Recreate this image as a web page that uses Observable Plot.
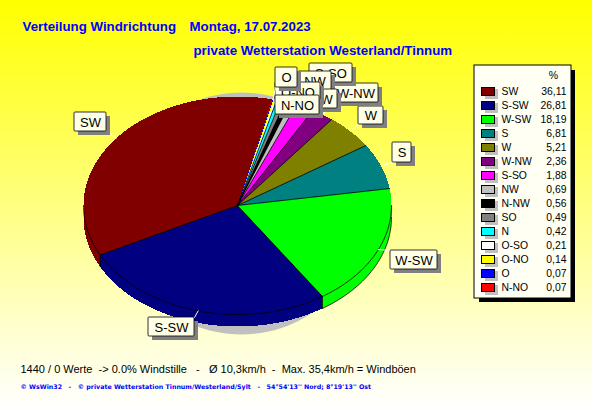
<!DOCTYPE html>
<html><head><meta charset="utf-8">
<script src="https://cdn.jsdelivr.net/npm/d3@7"></script>
<script src="https://cdn.jsdelivr.net/npm/@observablehq/plot@0.6"></script>
<style>
html,body{margin:0;padding:0;width:592px;height:407px;overflow:hidden;background:linear-gradient(#ffff00 0%,#ffff80 50%,#ffffff 100%)}
svg{display:block;background:transparent!important}
</style></head><body><div id="c"></div>
<script>
const directions=["SW","S-SW","W-SW","S","W","W-NW","S-SO","NW","N-NW","SO","N","O-SO","O-NO","O","N-NO"];
const percents=[36.11,26.81,18.19,6.81,5.21,2.36,1.88,0.69,0.56,0.49,0.42,0.21,0.14,0.07,0.07];
const percentLabels=["36,11","26,81","18,19","6,81","5,21","2,36","1,88","0,69","0,56","0,49","0,42","0,21","0,14","0,07","0,07"];
const sliceColors=["#800000","#000080","#00ff00","#008080","#808000","#800080","#ff00ff","#c0c0c0","#000000","#808080","#00ffff","#ffffff","#ffff00","#0000ff","#ff0000"];

// Layout
const pie={cx:237,cy:205,rx:154,ry:109,depth:12,start:13};
const labelBoxes=[["SW",74,112,106,131],["S-SW",148,317,194,336],["W-SW",390,250,437,269],["S",392,142,411,162],["W",358,106,383,124],["W-NW",333,83,378,102],["S-SO",309,63,352,82],["NW",298,71,331,90],["N-NW",292,89,337,108],["O-NO",275,82,320,101],["O",275,67,297,87],["N-NO",275,95,319,114]];

const total=d3.sum(percents), rad=Math.PI/180;
const rim=(a,dy=0)=>({x:pie.cx+pie.rx*Math.sin(a*rad),y:pie.cy-pie.ry*Math.cos(a*rad)+dy});
let acc=pie.start;
const slices=directions.map((name,i)=>{const a0=acc,a1=acc-percents[i]/total*360;acc=a1;return {name,a0,a1,mid:(a0+a1)/2,color:sliceColors[i],i};});
const arc=(a0,a1,dy=0)=>{const n=Math.max(2,Math.ceil(Math.abs(a1-a0)));return d3.range(n+1).map(k=>rim(a0+(a1-a0)*k/n,dy));};

const marks=[];
const px={x:"x",y:"y"};
const crisp={shapeRendering:"crispEdges"};
const edge={stroke:"#000",strokeWidth:0.8,...crisp};
// drop shadow of pie
marks.push(Plot.line(d3.range(0,361,3).map(a=>({x:241+124*Math.sin(a*rad),y:213-121*Math.cos(a*rad)})),{...px,fill:"#c0c0c0",curve:"linear-closed"}));
// side walls (front half of the rim)
const walls=[];
slices.forEach(s=>{
  for(const base of [-720,-360,0]){
    const lo=Math.max(s.a1,90+base), hi=Math.min(s.a0,270+base);
    if(hi>lo) walls.push({color:s.color,lo,hi,name:s.name});
  }
});
walls.forEach(w=>{
  marks.push(Plot.line([...arc(w.lo,w.hi),...arc(w.hi,w.lo,pie.depth)],{...px,fill:w.color,curve:"linear-closed",...crisp}));
  if(w.name==="W-SW") marks.push(Plot.line(arc(w.lo,w.hi,pie.depth),{...px,...edge}));
});
// top faces
slices.forEach(s=>{
  marks.push(Plot.line([{x:pie.cx,y:pie.cy},...arc(s.a0,s.a1)],{...px,fill:s.color,curve:"linear-closed",...crisp}));
});
// black edges: radii, front rim, wall corners
slices.forEach(s=>{
  if(s.i>0&&percents[s.i]>=0.2) marks.push(Plot.line([{x:pie.cx,y:pie.cy},rim(s.a0)],{...px,...edge}));
  const a=((s.a0%360)+360)%360;
  if(a>90&&a<270) marks.push(Plot.line([rim(s.a0),rim(s.a0,pie.depth)],{...px,...edge}));
});
walls.forEach(w=>marks.push(Plot.line(arc(w.lo,w.hi),{...px,...edge})));
// labels
const labelFont={fontFamily:"Liberation Sans",fontSize:13,fill:"#000"};
labelBoxes.forEach(([name,x1,y1,x2,y2])=>{
  const s=slices.find(d=>d.name===name), r=rim(s.mid);
  const cl=(v,a,b)=>Math.max(a,Math.min(b,v));
  marks.push(Plot.line([r,{x:cl(r.x,x1,x2),y:cl(r.y,y1,y2)}],{...px,stroke:"#fff",strokeWidth:1}));
  marks.push(Plot.rect([0],{x1:x1+4,y1:y1+4,x2:x2+4,y2:y2+4,fill:"#808080"}));
  marks.push(Plot.rect([0],{x1,y1,x2,y2,fill:"#ffffe6",stroke:"#000",strokeWidth:0.8,rx:1}));
  marks.push(Plot.text([name],{x:(x1+x2)/2,y:(y1+y2)/2+0.5,text:d=>d,...labelFont,textAnchor:"middle",lineAnchor:"middle"}));
});
// legend
const rowY=i=>91+14*i;
marks.push(Plot.rect([0],{x1:479,y1:70,x2:575,y2:302,fill:"#000"}));
marks.push(Plot.rect([0],{x1:474,y1:65,x2:571,y2:298,fill:"#fffff4",stroke:"#000",strokeWidth:1}));
marks.push(Plot.text(["%"],{x:553,y:75,text:d=>d,fontFamily:"Liberation Sans",fontSize:10.5,fill:"#000",textAnchor:"middle"}));
const rows=directions.map((name,i)=>({name,i,v:percentLabels[i],c:sliceColors[i]}));
marks.push(Plot.rect(rows,{x1:485,x2:498,y1:d=>rowY(d.i)-2,y2:d=>rowY(d.i)+8,fill:"#c0c0c0"}));
marks.push(Plot.rect(rows,{x1:481,x2:494,y1:d=>rowY(d.i)-4,y2:d=>rowY(d.i)+4,fill:d=>d.c,stroke:"#000",strokeWidth:1,...crisp}));
marks.push(Plot.text(rows,{x:501,y:d=>rowY(d.i),text:"name",fontFamily:"Liberation Sans",fontSize:10.4,fill:"#000",textAnchor:"start",lineAnchor:"middle"}));
marks.push(Plot.text(rows,{x:566,y:d=>rowY(d.i),text:"v",fontFamily:"Liberation Sans",fontSize:10.4,fill:"#000",textAnchor:"end",lineAnchor:"middle"}));
// titles
const titleFont={fontFamily:"Liberation Sans",fontWeight:"bold",fontSize:13.3,fill:"#0000ff",textAnchor:"start",lineAnchor:"bottom"};
marks.push(Plot.text(["Verteilung Windrichtung"],{x:22,y:30,text:d=>d,...titleFont}));
marks.push(Plot.text(["Montag, 17.07.2023"],{x:189,y:30,text:d=>d,...titleFont}));
marks.push(Plot.text(["private Wetterstation Westerland/Tinnum"],{x:193,y:54,text:d=>d,...titleFont}));
marks.push(Plot.text(["1440 / 0 Werte\u00a0 -> 0.0% Windstille\u00a0\u00a0 -\u00a0\u00a0 Ø 10,3km/h\u00a0 -\u00a0 Max. 35,4km/h = Windböen"],{x:20,y:369,text:d=>d,fontFamily:"Liberation Sans",fontSize:11,fill:"#000",textAnchor:"start",lineAnchor:"middle"}));
marks.push(Plot.text(["© WsWin32\u00a0\u00a0 -\u00a0\u00a0 © private Wetterstation Tinnum/Westerland/Sylt\u00a0\u00a0 -\u00a0\u00a0 54°54'13'' Nord; 8°19'13'' Ost"],{x:20,y:386,text:d=>d,fontFamily:"DejaVu Sans",fontWeight:"bold",fontSize:6.3,fill:"#0000ff",textAnchor:"start",lineAnchor:"middle"}));

const chart=Plot.plot({width:592,height:407,margin:0,
  x:{domain:[0,592],range:[0,592],axis:null},
  y:{domain:[0,407],range:[0,407],axis:null},
  style:{background:"transparent"},
  marks});
document.getElementById("c").appendChild(chart);
</script></body></html>
